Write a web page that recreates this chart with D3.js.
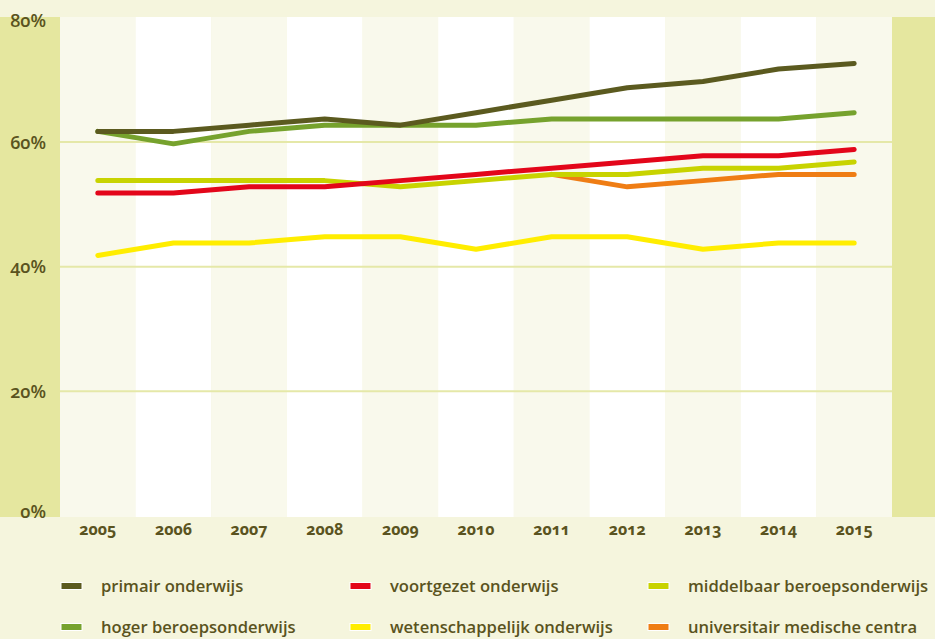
<!DOCTYPE html>
<html>
<head>
<meta charset="utf-8">
<script src="https://cdn.jsdelivr.net/npm/d3@7"></script>
<style>
  html, body { margin: 0; padding: 0; background: #f5f5dd; }
  svg { display: block; }
  text { font-family: "Open Sans", Lato, sans-serif; fill: #5a5320; font-variant-numeric: oldstyle-nums; font-feature-settings: "onum" 1; }
</style>
</head>
<body>
<svg id="chart" width="935" height="639"></svg>
<script>
// Years on the x axis
const years = ["2005", "2006", "2007", "2008", "2009", "2010", "2011", "2012", "2013", "2014", "2015"];

// Percentages per sector (null = no data for that year)
const primair          = [61.7, 61.7, 62.7, 63.7, 62.7, 64.7, 66.7, 68.7, 69.7, 71.7, 72.6];
const voortgezet       = [51.8, 51.8, 52.8, 52.8, 53.8, 54.8, 55.8, 56.8, 57.8, 57.8, 58.8];
const middelbaar       = [53.8, 53.8, 53.8, 53.8, 52.8, 53.8, 54.8, 54.8, 55.8, 55.8, 56.8];
const hoger            = [61.7, 59.7, 61.7, 62.7, 62.7, 62.7, 63.7, 63.7, 63.7, 63.7, 64.7];
const wetenschappelijk = [41.8, 43.8, 43.8, 44.8, 44.8, 42.8, 44.8, 44.8, 42.8, 43.8, 43.8];
const umc              = [null, null, null, null, null, null, 54.8, 52.8, 53.8, 54.8, 54.8];

// Y axis ticks
const yTicks = [0, 20, 40, 60, 80];

const seriesNames  = ["primair onderwijs", "voortgezet onderwijs", "middelbaar beroepsonderwijs",
                      "hoger beroepsonderwijs", "wetenschappelijk onderwijs", "universitair medische centra"];
const seriesValues = [primair, voortgezet, middelbaar, hoger, wetenschappelijk, umc];
const seriesColors = ["#5b5a1f", "#e3061a", "#c8d300", "#76a22d", "#ffed00", "#ef7d14"];

const series = seriesNames.map((name, i) => ({ name, values: seriesValues[i], color: seriesColors[i] }));

const svg = d3.select("#chart");
const W = 935, H = 639;
const plot = { left: 60, right: 892, top: 17, bottom: 517 };

// Outer background
svg.append("rect").attr("width", W).attr("height", H).attr("fill", "#f5f5dd");

// Side strips
svg.append("rect").attr("x", 0).attr("y", plot.top).attr("width", plot.left).attr("height", plot.bottom - plot.top).attr("fill", "#e5e79f");
svg.append("rect").attr("x", plot.right).attr("y", plot.top).attr("width", W - plot.right).attr("height", plot.bottom - plot.top).attr("fill", "#e5e79f");

const x = d3.scaleBand().domain(years).range([plot.left, plot.right]).padding(0);
const y = d3.scaleLinear().domain([0, 80]).range([516, 17.3]);

// Alternating column bands
svg.append("g").selectAll("rect").data(years).join("rect")
  .attr("x", d => x(d))
  .attr("y", plot.top)
  .attr("width", x.bandwidth())
  .attr("height", plot.bottom - plot.top)
  .attr("fill", (d, i) => i % 2 === 0 ? "#f9f9ec" : "#ffffff");

// Horizontal grid lines
svg.append("g").selectAll("line").data(yTicks.filter(t => t > 0 && t < 80)).join("line")
  .attr("x1", plot.left).attr("x2", plot.right)
  .attr("y1", d => y(d)).attr("y2", d => y(d))
  .attr("stroke", "#e5e8a8").attr("stroke-width", 2);

// Y axis labels, right-aligned inside the left strip
const yAxis = d3.axisLeft(y).tickValues(yTicks).tickFormat(d => d + "%").tickSize(0).tickPadding(0);
const gy = svg.append("g").attr("transform", `translate(46,0)`).call(yAxis);
gy.select(".domain").remove();
gy.selectAll("text")
  .attr("text-anchor", "end")
  .attr("x", 0)
  .attr("dy", d => d === 80 ? "0.5em" : d === 0 ? "0.1em" : "0.35em")
  .style("font-size", "18px").style("font-weight", "600").style("font-family", "'Open Sans', sans-serif");

// X axis labels
const xAxis = d3.axisBottom(x).tickSize(0).tickPadding(0);
const gx = svg.append("g").attr("transform", `translate(0,${plot.bottom + 7})`).call(xAxis);
gx.select(".domain").remove();
gx.selectAll("text")
  .attr("dy", "0.71em")
  .style("font-size", "16px").style("font-weight", "bold").style("font-family", "'Open Sans', sans-serif");

// Lines, drawn so the first legend entries end up on top
const line = d3.line()
  .defined(d => d != null)
  .x((d, i) => x(years[i]) + x.bandwidth() / 2)
  .y(d => y(d));

const drawOrder = [5, 4, 3, 2, 1, 0];
svg.append("g").selectAll("path").data(drawOrder.map(i => series[i])).join("path")
  .attr("d", d => line(d.values))
  .attr("fill", "none")
  .attr("stroke", d => d.color)
  .attr("stroke-width", 5)
  .attr("stroke-linecap", "round")
  .attr("stroke-linejoin", "round");

// Legend: three columns, two rows
const legendCols = [60, 349, 647];
const legendRows = [586, 627];
const legend = svg.append("g").selectAll("g").data(series).join("g")
  .attr("transform", (d, i) => `translate(${legendCols[i % 3]},${legendRows[Math.floor(i / 3)]})`);
legend.append("rect")
  .attr("x", 1).attr("y", -3.5).attr("width", 21).attr("height", 7)
  .attr("fill", d => d.color)
  .attr("stroke", "#ffffff").attr("stroke-width", 1);
legend.append("text")
  .attr("x", 41).attr("y", 0).attr("dy", "0.35em")
  .style("font-size", "16.6px").style("font-weight", "600")
  .text(d => d.name);
</script>
</body>
</html>
